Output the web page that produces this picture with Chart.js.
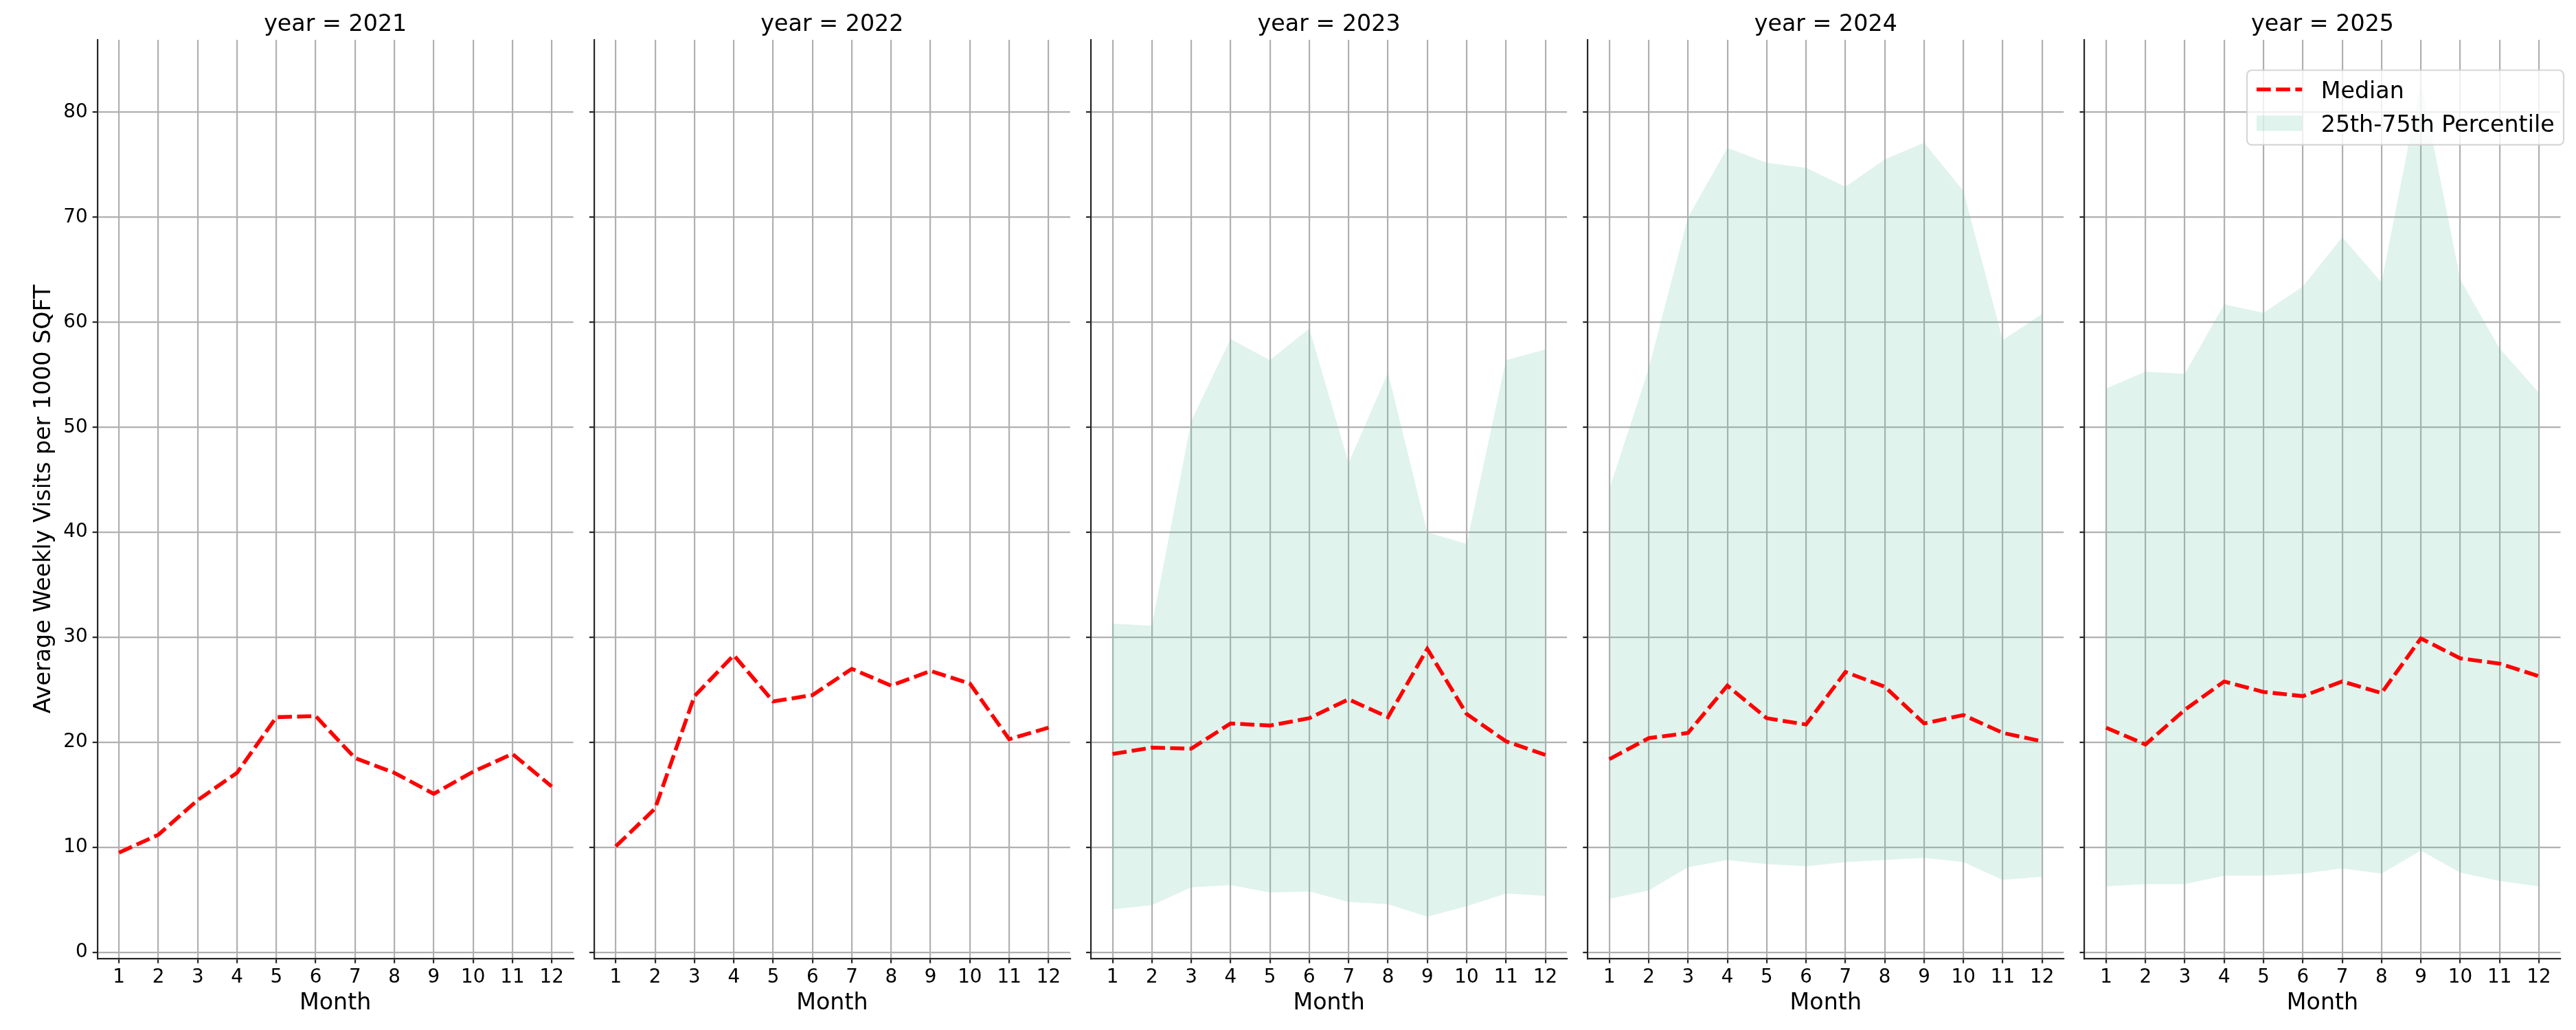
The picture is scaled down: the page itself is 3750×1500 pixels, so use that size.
<!DOCTYPE html>
<html lang="en">
<head>
<meta charset="UTF-8">
<title>Average Weekly Visits per 1000 SQFT by Month</title>
<script src="https://cdn.jsdelivr.net/npm/chart.js"></script>
<style>
  html, body { margin: 0; padding: 0; background: #fff; }
  #wrap { position: relative; width: 3750px; height: 1500px; overflow: hidden; }
  #wrap canvas { position: absolute; top: 0; }
</style>
</head>
<body>
<div id="wrap"></div>
<script>
const years = [2021, 2022, 2023, 2024, 2025];
const months = [1, 2, 3, 4, 5, 6, 7, 8, 9, 10, 11, 12];
const yTicks = [0, 10, 20, 30, 40, 50, 60, 70, 80];

const median2021 = [9.5, 11.2, 14.5, 17.1, 22.4, 22.5, 18.5, 17.1, 15.1, 17.2, 18.9, 15.8];
const median2022 = [10.1, 13.7, 24.4, 28.3, 23.9, 24.5, 27.0, 25.4, 26.8, 25.6, 20.3, 21.4];
const median2023 = [18.9, 19.5, 19.4, 21.8, 21.6, 22.3, 24.1, 22.4, 28.9, 22.7, 20.1, 18.8];
const median2024 = [18.4, 20.4, 20.9, 25.4, 22.3, 21.7, 26.7, 25.3, 21.8, 22.6, 20.9, 20.1];
const median2025 = [21.4, 19.8, 23.1, 25.8, 24.8, 24.4, 25.8, 24.7, 29.9, 28.0, 27.5, 26.3];

const p25_2023 = [4.1, 4.5, 6.2, 6.4, 5.7, 5.8, 4.8, 4.6, 3.4, 4.4, 5.6, 5.4];
const p75_2023 = [31.3, 31.1, 50.6, 58.4, 56.4, 59.4, 46.6, 55.2, 40.0, 38.9, 56.4, 57.4];
const p25_2024 = [5.1, 5.9, 8.1, 8.8, 8.4, 8.2, 8.6, 8.8, 9.0, 8.6, 6.9, 7.2];
const p75_2024 = [44.1, 55.6, 70.0, 76.6, 75.2, 74.7, 72.9, 75.5, 77.1, 72.5, 58.3, 60.8];
const p25_2025 = [6.3, 6.5, 6.5, 7.3, 7.3, 7.5, 8.0, 7.5, 9.7, 7.6, 6.8, 6.3];
const p75_2025 = [53.7, 55.3, 55.1, 61.7, 60.9, 63.4, 68.1, 63.8, 82.9, 64.1, 57.5, 53.3];

const medians = [median2021, median2022, median2023, median2024, median2025];
const lowers = [null, null, p25_2023, p25_2024, p25_2025];
const uppers = [null, null, p75_2023, p75_2024, p75_2025];

const FONT = "'DejaVu Sans', 'Liberation Sans', sans-serif";
const BAND = 'rgba(102, 194, 165, 0.2)';
const AXIS = '#262626';
const GRID = '#b0b0b0';

// panel geometry (pixels)
const plotLeft0 = 141.7, plotStep = 723.2, plotWidth = 693;
const plotTop = 58, plotBottom = 1395.7, H = 1500;

function toPoints(vals) {
  return vals.map((v, i) => ({ x: months[i], y: v }));
}

// matplotlib-style legend box, drawn inside the last panel
const bandLegend = {
  id: 'bandLegend',
  afterDraw(chart) {
    const ctx = chart.ctx, a = chart.chartArea;
    const ds = chart.data.datasets;
    const x0 = a.right - 456.5, x1 = a.right + 4.5;
    const y0 = a.top + 44.3, y1 = a.top + 153;
    ctx.save();
    ctx.beginPath();
    ctx.roundRect(x0, y0, x1 - x0, y1 - y0, 7);
    ctx.fillStyle = 'rgba(255,255,255,0.8)';
    ctx.fill();
    ctx.strokeStyle = 'rgba(204,204,204,0.8)';
    ctx.lineWidth = 2.2;
    ctx.stroke();

    // Median handle
    ctx.beginPath();
    ctx.setLineDash(ds[0].borderDash);
    ctx.strokeStyle = ds[0].borderColor;
    ctx.lineWidth = ds[0].borderWidth;
    ctx.moveTo(x0 + 14, y0 + 28);
    ctx.lineTo(x0 + 80.3, y0 + 28);
    ctx.stroke();
    ctx.setLineDash([]);

    // band handle
    ctx.fillStyle = ds[2].backgroundColor;
    ctx.fillRect(x0 + 14, y0 + 66, 66.3, 22.4);

    ctx.fillStyle = '#000';
    ctx.font = '33.3px ' + FONT;
    ctx.textAlign = 'left';
    ctx.textBaseline = 'alphabetic';
    ctx.fillText(ds[0].label, x0 + 107.7, y0 + 41);
    ctx.fillText(ds[2].label, x0 + 107.7, y0 + 89.4);
    ctx.restore();
  }
};

const wrap = document.getElementById('wrap');

years.forEach((year, i) => {
  const pl = plotLeft0 + i * plotStep;
  const canvasLeft = i === 0 ? 0 : Math.round(pl - 28);
  const canvasRight = Math.min(3750, Math.round(pl + plotWidth + 22));
  const yw = pl - canvasLeft;
  const rightPad = canvasRight - (pl + plotWidth);

  const canvas = document.createElement('canvas');
  canvas.width = canvasRight - canvasLeft;
  canvas.height = H;
  canvas.style.left = canvasLeft + 'px';
  canvas.style.width = (canvasRight - canvasLeft) + 'px';
  canvas.style.height = H + 'px';
  wrap.appendChild(canvas);

  const datasets = [{
    label: 'Median',
    data: toPoints(medians[i]),
    borderColor: 'red',
    borderWidth: 5.56,
    borderDash: [20.7, 7.5],
    pointRadius: 0,
    fill: false,
    tension: 0
  }];
  if (lowers[i]) {
    datasets.push({
      label: '25th percentile',
      data: toPoints(lowers[i]),
      borderWidth: 0,
      pointRadius: 0,
      fill: false
    });
    datasets.push({
      label: '25th-75th Percentile',
      data: toPoints(uppers[i]),
      borderWidth: 0,
      pointRadius: 0,
      backgroundColor: BAND,
      fill: '-1'
    });
  }

  new Chart(canvas, {
    type: 'line',
    data: { datasets: datasets },
    plugins: i === 4 ? [bandLegend] : [],
    options: {
      responsive: false,
      animation: false,
      devicePixelRatio: 1,
      layout: { padding: { left: 0, right: rightPad, top: 0, bottom: 0 } },
      plugins: {
        legend: { display: false },
        tooltip: { enabled: false },
        title: {
          display: true,
          fullSize: false,
          text: 'year = ' + year,
          color: '#000',
          font: { family: FONT, size: 33.3, weight: 'normal', lineHeight: 1.2 },
          padding: { top: 16, bottom: 2 }
        }
      },
      scales: {
        x: {
          type: 'linear',
          min: 0.45,
          max: 12.55,
          afterBuildTicks: s => { s.ticks = months.map(m => ({ value: m })); },
          afterFit: s => { s.height = H - plotBottom; },
          grid: { color: GRID, lineWidth: 2.2, tickLength: 7, tickColor: AXIS, tickWidth: 2.2 },
          border: { color: AXIS, width: 2.2 },
          ticks: {
            autoSkip: false, maxRotation: 0, color: '#000', padding: 4,
            font: { family: FONT, size: 27.8 },
            callback: v => String(v)
          },
          title: {
            display: true, text: 'Month', color: '#000',
            font: { family: FONT, size: 33.3 },
            padding: { top: 0, bottom: 18.6 }
          }
        },
        y: {
          min: -0.57,
          max: 86.9,
          afterBuildTicks: s => { s.ticks = yTicks.map(v => ({ value: v })); },
          afterFit: s => { s.width = yw; },
          grid: { color: GRID, lineWidth: 2.2, tickLength: 7, tickColor: AXIS, tickWidth: 2.2 },
          border: { color: AXIS, width: 2.2 },
          ticks: {
            autoSkip: false, color: '#000', padding: 7,
            font: { family: FONT, size: 27.8 },
            callback: v => i === 0 ? String(v) : ''
          },
          title: {
            display: i === 0,
            text: 'Average Weekly Visits per 1000 SQFT',
            color: '#000',
            font: { family: FONT, size: 33.3 },
            padding: { top: 44.5, bottom: 0 }
          }
        }
      }
    }
  });
});
</script>
</body>
</html>
